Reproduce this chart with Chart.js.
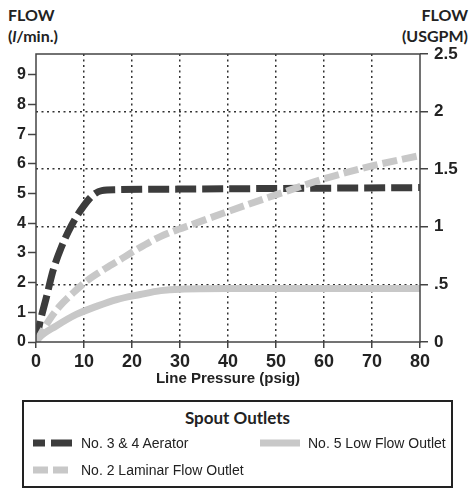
<!DOCTYPE html>
<html>
<head>
<meta charset="utf-8">
<script src="https://cdn.jsdelivr.net/npm/chart.js@4/dist/chart.umd.min.js"></script>
<style>
  body { margin: 0; background: #fff; width: 469px; height: 493px; overflow: hidden; position: relative; font-family: Lato, sans-serif; color: #222; }
  .chart-wrap { position: absolute; left: 0; top: 0; width: 469px; height: 395px; }
  .axis-title { position: absolute; top: 4px; font-weight: bold; font-size: 16px; line-height: 21px; }
  .axis-title.left { left: 8px; }
  .axis-title.right { right: 1px; text-align: right; }
  .legend-box { position: absolute; left: 22px; top: 400px; width: 431px; height: 88px; box-sizing: border-box; border: 2px solid #222; padding: 5px 0 0 9px; }
  .legend-title { text-align: center; font-weight: bold; font-size: 17px; line-height: 22px; margin-left: -9px; }
  .legend-items { display: grid; grid-template-columns: 227px auto; grid-template-rows: 27px 27px; grid-auto-flow: column; }
  .legend-item { display: flex; align-items: center; font-family: "Liberation Sans", Arial, sans-serif; font-size: 14px; color: #222; }
  .legend-item canvas { margin-right: 8px; }
</style>
</head>
<body>
<div class="axis-title left">FLOW<br>(<i>l</i>/min.)</div>
<div class="axis-title right">FLOW<br>(USGPM)</div>
<div class="chart-wrap"><canvas id="flowChart"></canvas></div>
<div class="legend-box">
  <div class="legend-title">Spout Outlets</div>
  <div class="legend-items" id="legendItems"></div>
</div>
<script>
// flow readings (l/min) against line pressure (psig)
const aeratorPsi = [0, 0.8, 2.2, 3.6, 5.3, 7.4, 9.8, 11.9, 13.7, 16.8, 30, 50, 80];
const aeratorFlow = [0, 0.64, 1.53, 2.43, 3.2, 3.93, 4.55, 4.95, 5.1, 5.13, 5.15, 5.17, 5.2];

const laminarPsi = [0, 2.8, 4.9, 7.7, 10.5, 14, 17.5, 20.3, 25.9, 33.6, 40.6, 50.4, 60.1, 70, 80];
const laminarFlow = [0, 0.75, 1.2, 1.65, 2.05, 2.43, 2.77, 3.05, 3.55, 4.02, 4.43, 4.98, 5.5, 5.93, 6.28];

const lowFlowPsi = [0, 0.7, 4.2, 8.4, 12.6, 16.8, 21.7, 26, 30, 40, 80];
const lowFlowFlow = [0, 0.15, 0.54, 0.93, 1.2, 1.43, 1.6, 1.73, 1.78, 1.8, 1.8];

const seriesLabels = ['No. 3 & 4 Aerator', 'No. 2 Laminar Flow Outlet', 'No. 5 Low Flow Outlet'];
const usgpmLabels = ['0', '.5', '1', '1.5', '2', '2.5'];

const toPoints = (xs, ys) => xs.map((x, i) => ({ x, y: ys[i] }));

const DARK = '#3c3c3c';
const LIGHT = '#c8c8c8';
const GRID = '#333';

const boxPlugin = {
  id: 'box',
  afterDraw(chart) {
    const { ctx, chartArea: a } = chart;
    ctx.save();
    ctx.strokeStyle = '#444';
    ctx.lineWidth = 1.5;
    ctx.strokeRect(a.left, a.top, a.right - a.left, a.bottom - a.top);
    ctx.restore();
  }
};

const innerGrid = (lo, hi) => (c) => (c.tick && (c.tick.value <= lo || c.tick.value >= hi)) ? 'rgba(0,0,0,0)' : GRID;

const chart = new Chart(document.getElementById('flowChart'), {
  type: 'line',
  data: {
    datasets: [
      {
        label: seriesLabels[0],
        data: toPoints(aeratorPsi, aeratorFlow),
        borderColor: DARK,
        borderWidth: 7,
        borderDash: [21, 6],
        borderCapStyle: 'butt',
        cubicInterpolationMode: 'monotone',
        pointRadius: 0,
        order: 1
      },
      {
        label: seriesLabels[1],
        data: toPoints(laminarPsi, laminarFlow),
        borderColor: LIGHT,
        borderWidth: 7,
        borderDash: [15, 5],
        borderCapStyle: 'butt',
        cubicInterpolationMode: 'monotone',
        pointRadius: 0,
        order: 0
      },
      {
        label: seriesLabels[2],
        data: toPoints(lowFlowPsi, lowFlowFlow),
        borderColor: LIGHT,
        borderWidth: 7,
        borderCapStyle: 'butt',
        cubicInterpolationMode: 'monotone',
        pointRadius: 0,
        order: 2
      }
    ]
  },
  options: {
    responsive: true,
    maintainAspectRatio: false,
    animation: false,
    layout: { padding: { top: 54, left: 0, right: 0, bottom: 0 } },
    plugins: {
      legend: { display: false },
      tooltip: { enabled: false }
    },
    scales: {
      x: {
        type: 'linear',
        min: 0,
        max: 80,
        afterFit: (s) => { s.height = 53; },
        border: { display: false, dash: [2, 3.5] },
        grid: {
          color: innerGrid(0, 80),
          lineWidth: 1.5,
          tickLength: 6,
          tickColor: '#444',
          tickWidth: 1.5,
          tickBorderDash: []
        },
        ticks: {
          stepSize: 10,
          padding: 3,
          color: '#222',
          font: { size: 18, weight: 'bold' }
        },
        title: {
          display: true,
          text: 'Line Pressure (psig)',
          color: '#222',
          padding: { top: 0, bottom: 7 },
          font: { size: 15, weight: 'bold' }
        }
      },
      y: {
        position: 'left',
        min: 0,
        max: 9.7,
        afterFit: (s) => { s.width = 36; },
        border: { display: false },
        grid: {
          drawOnChartArea: false,
          tickLength: 8,
          tickColor: '#444',
          tickWidth: 1.5
        },
        ticks: {
          stepSize: 1,
          includeBounds: false,
          padding: 2,
          color: '#222',
          font: { size: 16, weight: 'bold' }
        }
      },
      y1: {
        position: 'right',
        min: 0,
        max: 2.5,
        afterFit: (s) => { s.width = 49; },
        border: { display: false, dash: [2, 3.5] },
        grid: {
          color: innerGrid(0, 2.5),
          lineWidth: 1.5,
          tickLength: 8,
          tickColor: '#444',
          tickWidth: 1.5,
          tickBorderDash: []
        },
        ticks: {
          stepSize: 0.5,
          padding: 6,
          color: '#222',
          font: { size: 17, weight: 'bold' },
          callback: (v, i) => usgpmLabels[i]
        }
      }
    }
  },
  plugins: [boxPlugin]
});

// legend built from the chart's own datasets
const legendItems = document.getElementById('legendItems');
chart.data.datasets.forEach((ds) => {
  const item = document.createElement('div');
  item.className = 'legend-item';
  const sw = document.createElement('canvas');
  sw.width = 40;
  sw.height = 10;
  const c = sw.getContext('2d');
  c.strokeStyle = ds.borderColor;
  c.lineWidth = 7;
  if (ds.borderDash) {
    c.setLineDash(ds.borderDash);
    c.lineDashOffset = ds.borderDash[0] === 21 ? 9 : 0;
  }
  c.beginPath();
  c.moveTo(0, 5);
  c.lineTo(40, 5);
  c.stroke();
  item.appendChild(sw);
  const txt = document.createElement('span');
  txt.textContent = ds.label;
  item.appendChild(txt);
  legendItems.appendChild(item);
});
</script>
</body>
</html>
